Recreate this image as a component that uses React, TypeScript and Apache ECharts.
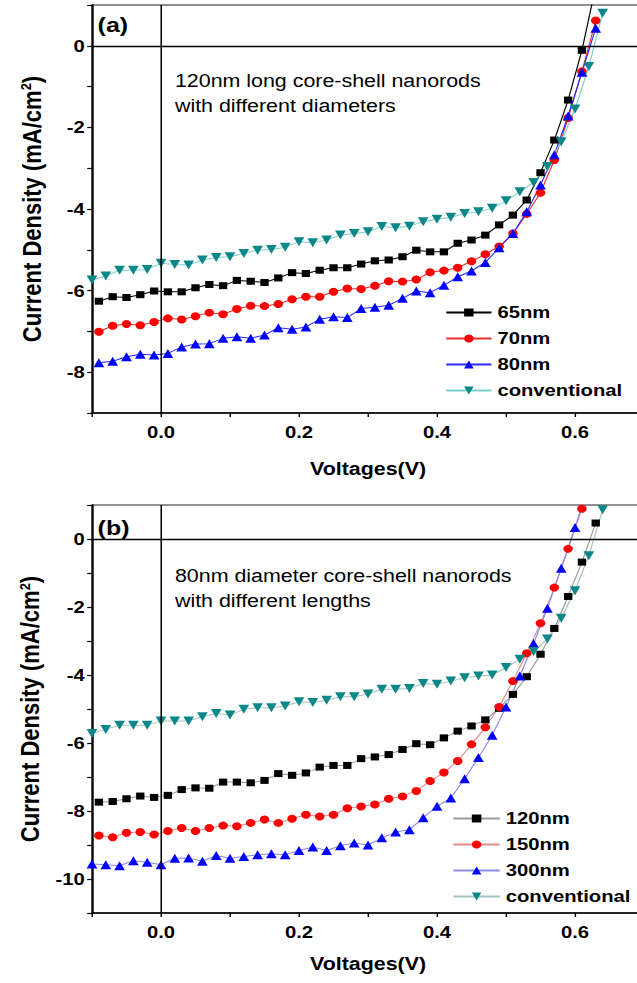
import React, { useEffect, useRef } from 'react';
import * as echarts from 'echarts';

// The reference picture is stretched horizontally; the chart is drawn at design size and scaled.
const S = 1.19;
const FONT = '"Liberation Sans", Arial, Helvetica, sans-serif';

// Voltages (V)
const VOLT_ODD = [-0.09, -0.07, -0.05, -0.03, -0.01, 0.01, 0.03, 0.05, 0.07, 0.09, 0.11, 0.13, 0.15, 0.17, 0.19, 0.21, 0.23, 0.25, 0.27, 0.29, 0.31, 0.33, 0.35, 0.37, 0.39, 0.41, 0.43, 0.45, 0.47, 0.49, 0.51, 0.53, 0.55, 0.57, 0.59, 0.61, 0.63];
const VOLT_EVEN = [-0.1, -0.08, -0.06, -0.04, -0.02, 0.0, 0.02, 0.04, 0.06, 0.08, 0.1, 0.12, 0.14, 0.16, 0.18, 0.2, 0.22, 0.24, 0.26, 0.28, 0.3, 0.32, 0.34, 0.36, 0.38, 0.4, 0.42, 0.44, 0.46, 0.48, 0.5, 0.52, 0.54, 0.56, 0.58, 0.6, 0.62, 0.64];

// Panel (a): 120nm long core-shell nanorods, different diameters
const A_65NM = [-6.26, -6.15, -6.17, -6.10, -6.01, -6.03, -6.03, -5.93, -5.85, -5.88, -5.75, -5.77, -5.80, -5.69, -5.56, -5.58, -5.50, -5.44, -5.44, -5.35, -5.27, -5.25, -5.17, -5.01, -5.05, -5.05, -4.84, -4.76, -4.64, -4.39, -4.15, -3.78, -3.11, -2.31, -1.33, -0.11, 1.45];
const A_70NM = [-7.01, -6.86, -6.82, -6.85, -6.77, -6.68, -6.71, -6.63, -6.54, -6.58, -6.45, -6.37, -6.38, -6.33, -6.21, -6.15, -6.15, -6.03, -5.95, -5.96, -5.88, -5.77, -5.78, -5.73, -5.55, -5.51, -5.44, -5.28, -5.11, -4.92, -4.60, -4.12, -3.60, -2.80, -1.77, -0.63, 0.62];
const A_80NM = [-7.77, -7.73, -7.62, -7.56, -7.58, -7.54, -7.38, -7.31, -7.30, -7.17, -7.13, -7.17, -7.09, -6.91, -6.95, -6.89, -6.70, -6.64, -6.66, -6.44, -6.41, -6.36, -6.19, -6.01, -6.05, -5.87, -5.66, -5.52, -5.31, -4.95, -4.60, -4.07, -3.41, -2.67, -1.72, -0.65, 0.43];
const A_CONV = [-5.74, -5.64, -5.50, -5.50, -5.48, -5.33, -5.36, -5.37, -5.25, -5.19, -5.17, -5.09, -5.01, -4.99, -4.94, -4.80, -4.83, -4.76, -4.64, -4.60, -4.56, -4.43, -4.46, -4.42, -4.31, -4.25, -4.20, -4.11, -4.07, -3.98, -3.80, -3.58, -3.35, -2.96, -2.35, -1.55, -0.51, 0.80];

// Panel (b): 80nm diameter core-shell nanorods, different lengths
const B_120NM = [-7.74, -7.72, -7.64, -7.56, -7.60, -7.54, -7.37, -7.32, -7.33, -7.15, -7.15, -7.17, -7.10, -6.90, -6.95, -6.88, -6.71, -6.66, -6.66, -6.46, -6.41, -6.34, -6.19, -6.02, -6.05, -5.85, -5.65, -5.50, -5.32, -4.98, -4.57, -4.05, -3.39, -2.63, -1.69, -0.68, 0.47];
const B_150NM = [-8.72, -8.77, -8.64, -8.62, -8.69, -8.59, -8.50, -8.59, -8.50, -8.43, -8.45, -8.35, -8.25, -8.35, -8.23, -8.11, -8.16, -8.11, -7.92, -7.87, -7.81, -7.64, -7.57, -7.41, -7.12, -6.87, -6.53, -6.04, -5.54, -4.94, -4.18, -3.36, -2.48, -1.43, -0.29, 0.89, 2.1];
const B_300NM = [-9.56, -9.58, -9.61, -9.46, -9.51, -9.58, -9.39, -9.38, -9.48, -9.31, -9.39, -9.34, -9.29, -9.26, -9.29, -9.16, -9.06, -9.16, -9.02, -8.94, -9.00, -8.79, -8.62, -8.55, -8.20, -7.86, -7.62, -7.05, -6.43, -5.77, -4.94, -4.03, -3.07, -2.04, -0.86, 0.34, 1.6];
const B_CONV = [-5.72, -5.60, -5.48, -5.48, -5.48, -5.35, -5.35, -5.35, -5.23, -5.13, -5.18, -5.01, -4.96, -4.96, -4.91, -4.79, -4.81, -4.74, -4.64, -4.64, -4.56, -4.42, -4.42, -4.40, -4.25, -4.27, -4.18, -4.08, -4.03, -4.00, -3.78, -3.54, -3.31, -2.94, -2.33, -1.52, -0.49, 0.86];

const LEGEND_A = ['65nm', '70nm', '80nm', 'conventional'];
const LEGEND_B = ['120nm', '150nm', '300nm', 'conventional'];
const X_TITLE = 'Voltages(V)';
const Y_TITLE = 'Current Density (mA/cm{sup|2})';
const NOTE_A = '120nm long core-shell nanorods\nwith different diameters';
const NOTE_B = '80nm diameter core-shell nanorods\nwith different lengths';

const zip = (xs: number[], ys: number[]) => ys.map((y, i) => [xs[i], y]);

const xFmt = (v: number) => {
  const r = Math.round(v * 10);
  return r >= 0 && r <= 6 && r % 2 === 0 ? (r / 10).toFixed(1) : '';
};
const yFmt = (v: number) => {
  const r = Math.round(v);
  return r <= 0 && r % 2 === 0 ? String(r === 0 ? 0 : r) : '';
};

const GRID_LEFT = 77.3;
const GRID_W = 463.9;

const xAxisCfg = (gridIndex: number, nameGap: number) => ({
  type: 'value',
  gridIndex,
  min: -0.1,
  max: 0.7,
  interval: 0.1,
  name: X_TITLE,
  nameLocation: 'middle',
  nameGap,
  nameTextStyle: { fontFamily: FONT, fontSize: 18, fontWeight: 'bold', color: '#000' },
  axisLine: { show: true, onZero: false, lineStyle: { color: '#000', width: 1.5 } },
  axisTick: { show: true, inside: false, length: 4, lineStyle: { color: '#000', width: 1.2 } },
  axisLabel: { show: true, margin: 11, fontFamily: FONT, fontSize: 17, fontWeight: 'bold', color: '#000', formatter: xFmt },
  splitLine: { show: false },
});

const yAxisCfg = (gridIndex: number, min: number, nameGap: number) => ({
  type: 'value',
  gridIndex,
  min,
  max: 1,
  interval: 1,
  name: Y_TITLE,
  nameLocation: 'middle',
  nameGap,
  nameRotate: 90,
  nameTextStyle: {
    fontFamily: FONT,
    fontSize: 22,
    fontWeight: 'bold',
    color: '#000',
    rich: {
      sup: { fontFamily: FONT, fontSize: 13, fontWeight: 'bold', color: '#000', verticalAlign: 'top' },
    },
  },
  axisLine: { show: true, onZero: false, lineStyle: { color: '#000', width: 1.5 } },
  axisTick: { show: true, inside: false, length: 4, lineStyle: { color: '#000', width: 1.2 } },
  axisLabel: { show: true, margin: 6, fontFamily: FONT, fontSize: 17, fontWeight: 'bold', color: '#000', formatter: yFmt },
  splitLine: { show: false },
});

const zeroLines = {
  silent: true,
  symbol: ['none', 'none'],
  label: { show: false },
  lineStyle: { color: '#000', width: 1.3, type: 'solid' },
  emphasis: { disabled: true },
  data: [{ xAxis: 0 }, { yAxis: 0 }],
};

const mkSeries = (
  name: string,
  idx: number,
  xs: number[],
  ys: number[],
  symbol: string,
  size: number,
  markColor: string,
  lineColor: string,
  rotate = 0,
  withZero = false
) => ({
  type: 'line',
  name,
  xAxisIndex: idx,
  yAxisIndex: idx,
  data: zip(xs, ys),
  symbol,
  symbolSize: size,
  symbolRotate: rotate,
  showSymbol: true,
  clip: true,
  itemStyle: { color: markColor, borderWidth: 0 },
  lineStyle: { color: lineColor, width: 1 },
  emphasis: { disabled: true },
  z: 3,
  ...(withZero ? { markLine: zeroLines } : {}),
});

const TEAL = '#0b8787';

const legendText = { fontFamily: FONT, fontSize: 17, fontWeight: 'bold', color: '#000', lineHeight: 17 };

const option = {
  animation: false,
  backgroundColor: '#fff',
  textStyle: { fontFamily: FONT },
  grid: [
    { left: GRID_LEFT, top: 5, width: GRID_W, height: 408, show: true, borderColor: '#222', borderWidth: 1.2, backgroundColor: 'transparent' },
    { left: GRID_LEFT, top: 505, width: GRID_W, height: 408, show: true, borderColor: '#222', borderWidth: 1.2, backgroundColor: 'transparent' },
  ],
  xAxis: [xAxisCfg(0, 47), xAxisCfg(1, 42)],
  yAxis: [yAxisCfg(0, -9, 40), yAxisCfg(1, -11, 40)],
  legend: [
    {
      data: LEGEND_A,
      orient: 'vertical',
      left: 374,
      top: 304,
      padding: 0,
      itemWidth: 38,
      itemHeight: 10,
      itemGap: 9,
      selectedMode: false,
      textStyle: legendText,
    },
    {
      data: [
        LEGEND_B[0],
        LEGEND_B[1],
        LEGEND_B[2],
        { name: LEGEND_B[3], lineStyle: { color: '#a3c2c2' }, itemStyle: { color: TEAL } },
      ],
      orient: 'vertical',
      left: 380,
      top: 810,
      padding: 0,
      itemWidth: 39,
      itemHeight: 10,
      itemGap: 9,
      selectedMode: false,
      textStyle: legendText,
    },
  ],
  graphic: [
    {
      type: 'text',
      left: 82,
      top: 14,
      style: { text: '(a)', fontFamily: FONT, fontSize: 21, fontWeight: 'bold', fill: '#000' },
    },
    {
      type: 'text',
      left: 82,
      top: 517,
      style: { text: '(b)', fontFamily: FONT, fontSize: 21, fontWeight: 'bold', fill: '#000' },
    },
    {
      type: 'text',
      left: 147,
      top: 68,
      style: { text: NOTE_A, fontFamily: FONT, fontSize: 18, lineHeight: 25, fill: '#000' },
    },
    {
      type: 'text',
      left: 147,
      top: 563,
      style: { text: NOTE_B, fontFamily: FONT, fontSize: 18, lineHeight: 25, fill: '#000' },
    },
  ],
  series: [
    mkSeries(LEGEND_A[0], 0, VOLT_ODD, A_65NM, 'rect', 7, '#000', '#000', 0, true),
    mkSeries(LEGEND_A[1], 0, VOLT_ODD, A_70NM, 'circle', 8, '#ff0000', '#e8302e'),
    mkSeries(LEGEND_A[2], 0, VOLT_ODD, A_80NM, 'triangle', 9, '#0000ff', '#2a2aff'),
    mkSeries(LEGEND_A[3], 0, VOLT_EVEN, A_CONV, 'triangle', 9, TEAL, '#79cfc9', 180),
    mkSeries(LEGEND_B[0], 1, VOLT_ODD, B_120NM, 'rect', 7, '#000', '#9a9a9a', 0, true),
    mkSeries(LEGEND_B[1], 1, VOLT_ODD, B_150NM, 'circle', 8, '#ff0000', '#e48a8a'),
    mkSeries(LEGEND_B[2], 1, VOLT_EVEN, B_300NM, 'triangle', 9, '#0000ff', '#8a8ae0'),
    mkSeries(LEGEND_B[3], 1, VOLT_EVEN, B_CONV, 'triangle', 9, TEAL, '#a3c2c2', 180),
  ],
};

export default function App() {
  const ref = useRef<HTMLDivElement>(null);
  useEffect(() => {
    if (!ref.current) return;
    const chart = echarts.init(ref.current, null, { renderer: 'svg' });
    chart.setOption(option as any);
    return () => chart.dispose();
  }, []);
  return (
    <div
      style={{
        position: 'fixed',
        left: 0,
        top: 0,
        width: 637,
        height: 983,
        overflow: 'hidden',
        background: '#fff',
      }}
    >
      <div
        ref={ref}
        style={{ width: 548, height: 983, transform: `scaleX(${S})`, transformOrigin: '0 0' }}
      />
    </div>
  );
}
